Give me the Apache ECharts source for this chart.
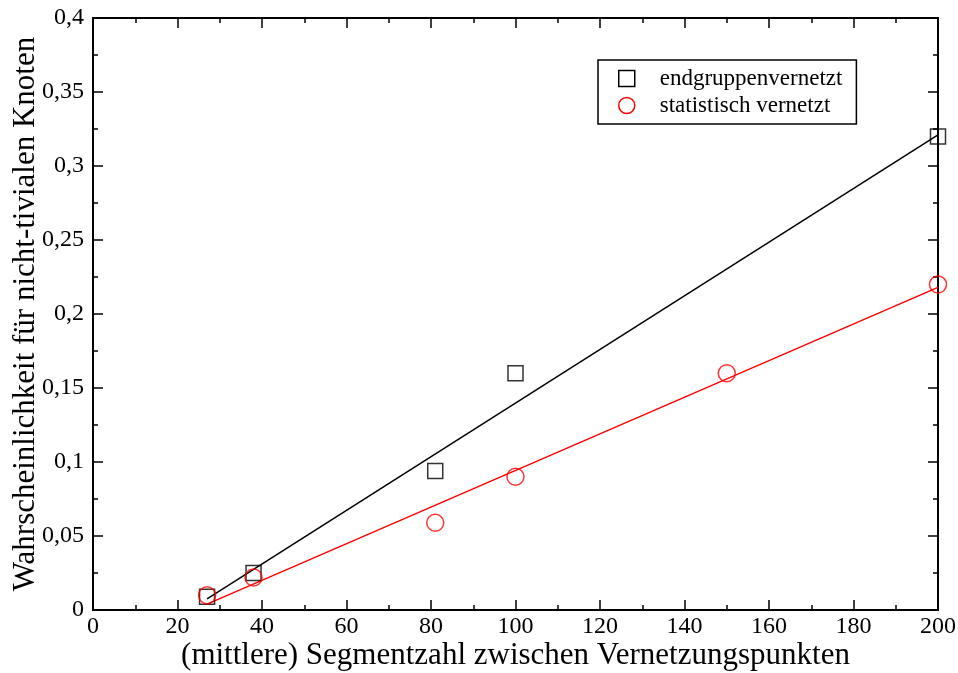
<!DOCTYPE html>
<html><head><meta charset="utf-8">
<script src="https://cdn.jsdelivr.net/npm/echarts@6/dist/echarts.min.js"></script>
<style>html,body{margin:0;padding:0;background:#fff}#c{width:958px;height:673px}</style>
</head><body><div id="c"></div>
<script>
const seriesNames = ['endgruppenvernetzt', 'statistisch vernetzt'];
const endX = [27, 38, 81, 100, 200];
const endY = [0.009, 0.025, 0.094, 0.16, 0.32];
const statX = [27, 38, 81, 100, 150, 200];
const statY = [0.01, 0.022, 0.059, 0.09, 0.16, 0.22];
const endFitX = [27, 200];
const endFitY = [0.0075, 0.321];
const statFitX = [27, 200];
const statFitY = [0.004, 0.218];
const xTicks = [0, 20, 40, 60, 80, 100, 120, 140, 160, 180, 200];
const yTicks = ['0', '0,05', '0,1', '0,15', '0,2', '0,25', '0,3', '0,35', '0,4'];

const zip = (a, b) => a.map((v, i) => [v, b[i]]);
const FONT = 'Liberation Serif';

const baseAxis = {
  axisLine: {show: true, onZero: false, lineStyle: {color: '#000', width: 2}},
  axisTick: {show: true, inside: true, length: 10, lineStyle: {color: '#000', width: 1.5}},
  minorTick: {show: true, splitNumber: 2, length: 5, lineStyle: {color: '#000', width: 1.5}},
  splitLine: {show: false},
  axisLabel: {color: '#000', fontFamily: FONT, fontSize: 24}
};

const option = {
  animation: false,
  backgroundColor: '#fff',
  grid: {left: 93, right: 20, top: 18, bottom: 63, containLabel: false, outerBoundsMode: 'none'},
  legend: {
    orient: 'vertical', left: 598, top: 60,
    padding: [7, 14, 7, 20],
    borderColor: '#000', borderWidth: 1.5,
    itemWidth: 16, itemHeight: 16, itemGap: 4,
    textStyle: {fontFamily: FONT, fontSize: 23, color: '#000', padding: [0, 0, 0, 20]},
    data: [
      {name: seriesNames[0], icon: 'rect', itemStyle: {color: 'rgba(0,0,0,0)', borderColor: '#000', borderWidth: 1.5}},
      {name: seriesNames[1], icon: 'circle', itemStyle: {color: 'rgba(0,0,0,0)', borderColor: '#f00', borderWidth: 1.5}}
    ]
  },
  xAxis: [
    Object.assign({}, baseAxis, {type: 'value', min: 0, max: 200, interval: 20, position: 'bottom',
      name: '(mittlere) Segmentzahl zwischen Vernetzungspunkten', nameLocation: 'middle', nameGap: 30,
      nameMoveOverlap: false,
      nameTextStyle: {fontFamily: FONT, fontSize: 31, color: '#000'},
      axisLabel: Object.assign({}, baseAxis.axisLabel, {margin: 5, formatter: v => xTicks.includes(v) ? String(v) : ''})}),
    Object.assign({}, baseAxis, {type: 'value', min: 0, max: 200, interval: 20, position: 'top',
      axisLabel: {show: false}})
  ],
  yAxis: [
    Object.assign({}, baseAxis, {type: 'value', min: 0, max: 0.4, interval: 0.05, position: 'left',
      name: 'Wahrscheinlichkeit für nicht-tivialen Knoten', nameLocation: 'middle', nameGap: 52,
      nameMoveOverlap: false,
      nameTextStyle: {fontFamily: FONT, fontSize: 31, color: '#000'},
      axisLabel: Object.assign({}, baseAxis.axisLabel, {margin: 9, formatter: (v) => yTicks[Math.round(v / 0.05)] || ''})}),
    Object.assign({}, baseAxis, {type: 'value', min: 0, max: 0.4, interval: 0.05, position: 'right',
      axisLabel: {show: false}})
  ],
  series: [
    {name: seriesNames[0], type: 'line', data: zip(endFitX, endFitY), symbol: 'none',
     lineStyle: {color: '#000', width: 1.5}, itemStyle: {color: '#000'}, silent: true, z: 2},
    {name: seriesNames[1], type: 'line', data: zip(statFitX, statFitY), symbol: 'none',
     lineStyle: {color: '#f00', width: 1.5}, itemStyle: {color: '#f00'}, silent: true, z: 2},
    {name: seriesNames[0], type: 'scatter', data: zip(endX, endY), symbol: 'rect', symbolSize: 15,
     itemStyle: {color: 'rgba(0,0,0,0)', borderColor: '#000', borderWidth: 1.5}, z: 3},
    {name: seriesNames[1], type: 'scatter', data: zip(statX, statY), symbol: 'circle', symbolSize: 17,
     itemStyle: {color: 'rgba(0,0,0,0)', borderColor: '#f00', borderWidth: 1.5}, z: 3}
  ]
};
const chart = echarts.init(document.getElementById('c'), null, {renderer: 'canvas'});
chart.setOption(option);
</script></body></html>
